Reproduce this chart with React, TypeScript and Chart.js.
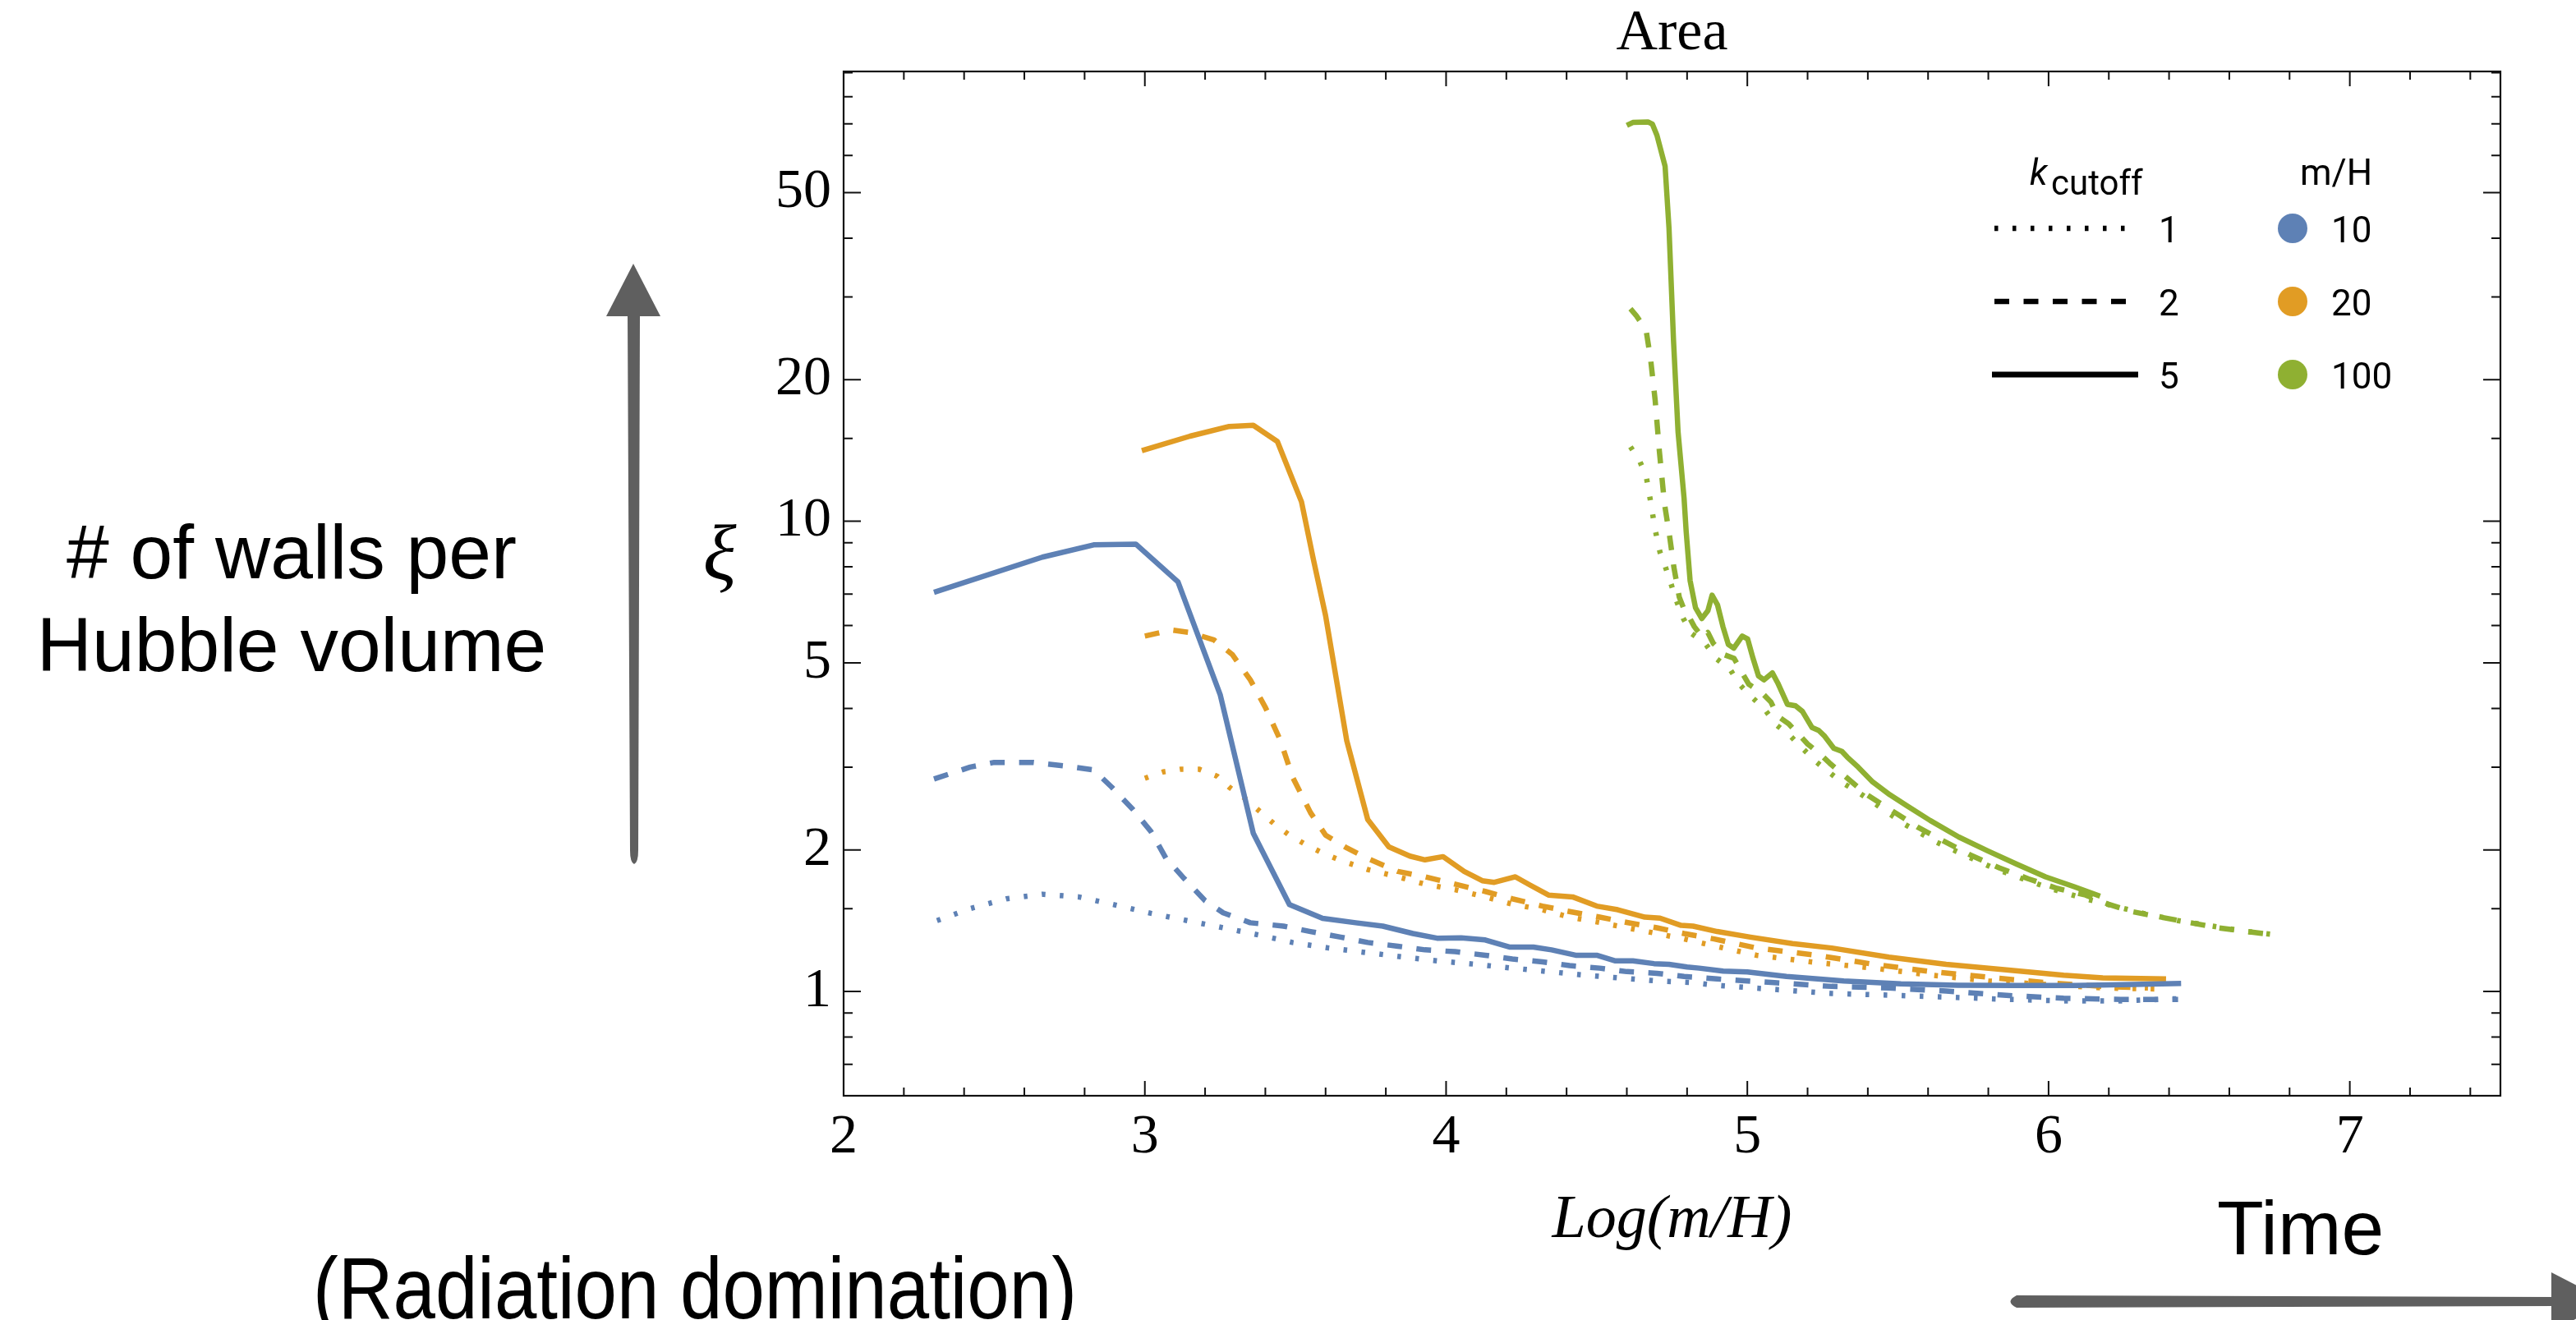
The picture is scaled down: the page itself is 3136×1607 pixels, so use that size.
import React, { useEffect, useRef } from "react";
import { Chart, registerables } from "chart.js";

Chart.register(...registerables);

// ---------- axis ticks ----------
const xTickValues = [2, 2.2, 2.4, 2.6, 2.8, 3, 3.2, 3.4, 3.6, 3.8, 4, 4.2, 4.4, 4.6, 4.8, 5, 5.2, 5.4, 5.6, 5.8, 6, 6.2, 6.4, 6.6, 6.8, 7, 7.2, 7.4];
const xTickLabels = [2, 3, 4, 5, 6, 7];
const yTickValues = [0.7, 0.8, 0.9, 1, 1.5, 2, 3, 4, 5, 6, 7, 8, 9, 10, 15, 20, 30, 40, 50, 60, 70, 80, 90];
const yTickLabels = [1, 2, 5, 10, 20, 50];

// ---------- legend entries ----------
const kCutoffValues = ["1", "2", "5"];
const massRatioValues = ["10", "20", "100"];

// ---------- data: m/H = 10 ----------
const m10k5X = [2.30, 2.66, 2.83, 2.97, 3.11, 3.25, 3.36, 3.48, 3.59, 3.70, 3.79, 3.89, 3.97, 4.05, 4.13, 4.21, 4.29, 4.35, 4.43, 4.50, 4.56, 4.62, 4.69, 4.74, 4.80, 4.84, 4.92, 5.00, 5.13, 5.32, 5.51, 5.70, 5.89, 6.09, 6.28, 6.44];
const m10k5Y = [7.06, 8.39, 8.91, 8.94, 7.43, 4.28, 2.17, 1.53, 1.43, 1.40, 1.377, 1.328, 1.298, 1.30, 1.287, 1.243, 1.243, 1.226, 1.194, 1.194, 1.162, 1.162, 1.146, 1.142, 1.127, 1.121, 1.105, 1.10, 1.076, 1.053, 1.038, 1.031, 1.030, 1.03, 1.035, 1.04];
const m10k2X = [2.30, 2.42, 2.50, 2.63, 2.73, 2.83, 2.89, 2.96, 3.02, 3.07, 3.13, 3.20, 3.26, 3.35, 3.46, 3.55, 3.65, 3.74, 3.84, 3.93, 4.03, 4.13, 4.22, 4.32, 4.41, 4.51, 4.60, 4.70, 4.79, 4.90, 5.09, 5.28, 5.47, 5.66, 5.86, 6.05, 6.24, 6.43];
const m10k2Y = [2.83, 3.0, 3.07, 3.07, 3.02, 2.96, 2.72, 2.44, 2.19, 1.92, 1.74, 1.56, 1.47, 1.40, 1.377, 1.341, 1.305, 1.271, 1.248, 1.226, 1.215, 1.194, 1.172, 1.156, 1.135, 1.121, 1.102, 1.093, 1.076, 1.063, 1.044, 1.025, 1.017, 1.002, 0.981, 0.967, 0.962, 0.962];
const m10k1X = [2.31, 2.42, 2.54, 2.66, 2.78, 2.90, 3.02, 3.14, 3.26, 3.38, 3.49, 3.61, 3.73, 3.86, 3.97, 4.10, 4.22, 4.34, 4.46, 4.57, 4.70, 4.82, 4.90, 5.09, 5.28, 5.47, 5.66, 5.86, 6.05, 6.24, 6.43];
const m10k1Y = [1.415, 1.50, 1.574, 1.61, 1.589, 1.528, 1.466, 1.415, 1.366, 1.318, 1.271, 1.237, 1.211, 1.183, 1.162, 1.142, 1.121, 1.102, 1.083, 1.069, 1.053, 1.044, 1.03, 1.01, 0.99, 0.982, 0.973, 0.962, 0.955, 0.955, 0.965];

// ---------- data: m/H = 20 ----------
const m20k5X = [2.99, 3.15, 3.28, 3.36, 3.44, 3.52, 3.56, 3.60, 3.67, 3.74, 3.81, 3.88, 3.93, 3.99, 4.06, 4.12, 4.16, 4.23, 4.28, 4.34, 4.42, 4.50, 4.57, 4.66, 4.71, 4.78, 4.82, 4.90, 5.01, 5.15, 5.28, 5.47, 5.66, 5.86, 6.05, 6.18, 6.39];
const m20k5Y = [14.13, 15.17, 15.91, 16.0, 14.78, 11.0, 8.27, 6.3, 3.42, 2.32, 2.03, 1.94, 1.905, 1.935, 1.80, 1.72, 1.706, 1.753, 1.682, 1.603, 1.589, 1.519, 1.492, 1.439, 1.432, 1.382, 1.377, 1.341, 1.305, 1.264, 1.237, 1.183, 1.142, 1.111, 1.083, 1.069, 1.063];
const m20k2X = [3.00, 3.09, 3.15, 3.23, 3.29, 3.35, 3.40, 3.45, 3.49, 3.55, 3.60, 3.67, 3.74, 3.84, 3.93, 4.03, 4.13, 4.22, 4.32, 4.41, 4.51, 4.60, 4.70, 4.79, 4.89, 5.03, 5.23, 5.42, 5.61, 5.80, 5.99, 6.18, 6.33];
const m20k2Y = [5.70, 5.87, 5.80, 5.59, 5.21, 4.60, 4.02, 3.42, 2.86, 2.40, 2.15, 2.02, 1.917, 1.80, 1.753, 1.691, 1.632, 1.574, 1.519, 1.479, 1.439, 1.402, 1.366, 1.328, 1.293, 1.237, 1.194, 1.142, 1.102, 1.072, 1.044, 1.025, 1.017];
const m20k1X = [3.00, 3.06, 3.12, 3.18, 3.24, 3.28, 3.33, 3.38, 3.43, 3.48, 3.53, 3.59, 3.65, 3.74, 3.84, 3.93, 4.03, 4.13, 4.22, 4.32, 4.41, 4.51, 4.60, 4.70, 4.79, 4.89, 5.03, 5.23, 5.42, 5.61, 5.80, 5.99, 6.18, 6.37];
const m20k1Y = [2.84, 2.93, 2.97, 2.97, 2.87, 2.72, 2.58, 2.42, 2.27, 2.15, 2.06, 1.97, 1.90, 1.817, 1.753, 1.691, 1.646, 1.589, 1.533, 1.492, 1.439, 1.402, 1.366, 1.328, 1.293, 1.25, 1.194, 1.152, 1.121, 1.083, 1.053, 1.035, 1.017, 1.012];

// ---------- data: m/H = 100 ----------
const m100k5X = [4.60, 4.62, 4.67, 4.685, 4.70, 4.727, 4.74, 4.755, 4.77, 4.79, 4.797, 4.81, 4.828, 4.849, 4.869, 4.883, 4.901, 4.919, 4.937, 4.955, 4.983, 5.001, 5.019, 5.037, 5.055, 5.083, 5.101, 5.133, 5.16, 5.183, 5.215, 5.237, 5.255, 5.287, 5.314, 5.332, 5.368, 5.416, 5.473, 5.531, 5.607, 5.702, 5.798, 5.894, 5.99, 6.085, 6.171];
const m100k5Y = [69.5, 70.5, 70.7, 69.9, 66.2, 56.9, 42.0, 24.2, 15.5, 11.2, 9.51, 7.48, 6.55, 6.21, 6.45, 6.96, 6.64, 5.97, 5.47, 5.37, 5.70, 5.62, 5.11, 4.69, 4.60, 4.76, 4.53, 4.08, 4.05, 3.94, 3.64, 3.59, 3.50, 3.29, 3.24, 3.15, 3.0, 2.79, 2.62, 2.48, 2.31, 2.13, 1.99, 1.866, 1.753, 1.67, 1.595];
const m100k2X = [4.612, 4.631, 4.664, 4.679, 4.694, 4.708, 4.725, 4.742, 4.756, 4.774, 4.794, 4.806, 4.824, 4.852, 4.869, 4.887, 4.924, 4.956, 4.983, 5.005, 5.046, 5.078, 5.101, 5.137, 5.173, 5.20, 5.241, 5.273, 5.31, 5.397, 5.473, 5.569, 5.645, 5.741, 5.836, 5.932, 6.028, 6.123, 6.199, 6.276, 6.371, 6.467, 6.563, 6.658, 6.754];
const m100k2Y = [28.3, 27.4, 25.5, 22.1, 18.1, 14.1, 10.9, 9.3, 8.0, 6.9, 6.4, 6.27, 5.97, 5.65, 5.8, 5.5, 5.2, 5.11, 4.76, 4.5, 4.33, 4.13, 3.85, 3.71, 3.51, 3.36, 3.20, 3.06, 2.92, 2.62, 2.44, 2.23, 2.10, 1.95, 1.832, 1.737, 1.657, 1.603, 1.533, 1.479, 1.439, 1.402, 1.366, 1.341, 1.318];
const m100k1X = [4.612, 4.641, 4.664, 4.679, 4.694, 4.71, 4.728, 4.747, 4.765, 4.787, 4.815, 4.86, 4.896, 4.942, 4.974, 5.014, 5.055, 5.096, 5.142, 5.183, 5.228, 5.273, 5.319, 5.358, 5.435, 5.521, 5.626, 5.721, 5.817, 5.913, 6.018, 6.123, 6.218, 6.314, 6.429, 6.544, 6.658, 6.763];
const m100k1Y = [14.4, 13.5, 12.5, 11.0, 9.6, 8.6, 8.0, 7.35, 6.77, 6.22, 5.77, 5.5, 5.11, 4.85, 4.5, 4.23, 4.0, 3.69, 3.5, 3.29, 3.08, 2.92, 2.77, 2.68, 2.48, 2.27, 2.08, 1.95, 1.83, 1.737, 1.646, 1.574, 1.519, 1.466, 1.415, 1.377, 1.341, 1.318];

// ---------- styles ----------
const BLUE = "#5E81B5";
const ORANGE = "#E19C24";
const GREEN = "#8FB032";
const ARROW_GRAY = "#5f5f5f";
const DASH_DOTTED = [4.5, 17.5];
const DASH_DASHED = [18, 17.5];
const DASH_SOLID: number[] = [];
const LINE_W = 6.5;
const SERIF = "'Liberation Serif', 'Times New Roman', serif";
const SANS = "'Liberation Sans', Arial, Helvetica, sans-serif";
const LEGEND_FONT = "Roboto, 'Noto Sans', sans-serif";

const pts = (xs: number[], ys: number[]) => xs.map((x, i) => ({ x, y: ys[i] }));

const series = (label: string, xs: number[], ys: number[], color: string, dash: number[]) => ({
  label,
  data: pts(xs, ys),
  borderColor: color,
  backgroundColor: color,
  borderWidth: LINE_W,
  borderDash: dash,
  borderCapStyle: "butt" as const,
  borderJoinStyle: "round" as const,
  pointRadius: 0,
  pointHoverRadius: 0,
  tension: 0,
  fill: false,
});

const decorPlugin = {
  id: "decor",
  afterDatasetsDraw(chart: any) {
    const { ctx, chartArea: a, scales } = chart;
    const xs = scales.x;
    const ys = scales.y;
    ctx.save();
    // frame
    ctx.strokeStyle = "#111";
    ctx.lineWidth = 2.2;
    ctx.strokeRect(a.left, a.top, a.right - a.left, a.bottom - a.top);
    // inward ticks on all four sides
    ctx.lineWidth = 2;
    ctx.beginPath();
    for (const t of xs.ticks) {
      const p = xs.getPixelForValue(t.value);
      const L = xTickLabels.includes(t.value) ? 18 : 10;
      ctx.moveTo(p, a.bottom);
      ctx.lineTo(p, a.bottom - L);
      ctx.moveTo(p, a.top);
      ctx.lineTo(p, a.top + L);
    }
    for (const t of ys.ticks) {
      const p = ys.getPixelForValue(t.value);
      const L = yTickLabels.includes(t.value) ? 21 : 11;
      ctx.moveTo(a.left, p);
      ctx.lineTo(a.left + L, p);
      ctx.moveTo(a.right, p);
      ctx.lineTo(a.right - L, p);
    }
    ctx.stroke();
    // upright y-axis label
    ctx.fillStyle = "#000";
    ctx.font = `italic 95px ${SERIF}`;
    ctx.textAlign = "center";
    ctx.textBaseline = "alphabetic";
    ctx.fillText("ξ", 876, 705);
    ctx.restore();
  },
  afterDraw(chart: any) {
    const { ctx } = chart;
    ctx.save();
    // ----- legend -----
    ctx.fillStyle = "#000";
    ctx.textBaseline = "alphabetic";
    ctx.textAlign = "left";
    ctx.font = `italic 44px ${LEGEND_FONT}`;
    ctx.fillText("k", 2471, 225);
    ctx.font = `42px ${LEGEND_FONT}`;
    ctx.fillText("cutoff", 2497, 237);
    ctx.font = `44px ${LEGEND_FONT}`;
    ctx.textAlign = "center";
    ctx.fillText("m/H", 2844, 225);
    ctx.textAlign = "left";
    const rowY = [278, 367, 456];
    const dashes = [DASH_DOTTED, DASH_DASHED, DASH_SOLID];
    const colors = [BLUE, ORANGE, GREEN];
    for (let i = 0; i < 3; i++) {
      const y = rowY[i];
      ctx.strokeStyle = "#000";
      ctx.lineWidth = i === 2 ? 7 : 6.5;
      ctx.lineCap = "butt";
      ctx.setLineDash(dashes[i]);
      ctx.beginPath();
      ctx.moveTo(i === 2 ? 2425 : 2428, y);
      ctx.lineTo(i === 2 ? 2603 : 2590, y);
      ctx.stroke();
      ctx.setLineDash([]);
      ctx.fillStyle = "#000";
      ctx.font = `44px ${LEGEND_FONT}`;
      ctx.fillText(kCutoffValues[i], 2628, y + 17);
      ctx.fillStyle = colors[i];
      ctx.beginPath();
      ctx.ellipse(2791, y, 18, 18, 0, 0, Math.PI * 2);
      ctx.fill();
      ctx.fillStyle = "#000";
      ctx.fillText(massRatioValues[i], 2838, y + 17);
    }
    // ----- annotations -----
    ctx.fillStyle = "#000";
    ctx.font = `93px ${SANS}`;
    ctx.textAlign = "center";
    ctx.fillText("# of walls per", 355, 704);
    ctx.fillText("Hubble volume", 355, 817);
    ctx.textAlign = "left";
    ctx.fillText("Time", 2699, 1527);
    ctx.save();
    ctx.translate(381, 1605);
    ctx.scale(0.872, 1);
    ctx.font = `106px ${SANS}`;
    ctx.fillText("(Radiation domination)", 0, 0);
    ctx.restore();
    // vertical arrow
    ctx.fillStyle = ARROW_GRAY;
    ctx.beginPath();
    ctx.moveTo(772, 1052);
    ctx.quadraticCurveTo(767, 1050, 767, 1035);
    ctx.lineTo(764, 384);
    ctx.lineTo(779, 384);
    ctx.lineTo(777, 1035);
    ctx.quadraticCurveTo(777, 1050, 772, 1052);
    ctx.closePath();
    ctx.fill();
    ctx.beginPath();
    ctx.moveTo(738, 385);
    ctx.lineTo(771, 321);
    ctx.lineTo(804, 385);
    ctx.closePath();
    ctx.fill();
    // horizontal arrow
    ctx.beginPath();
    ctx.moveTo(2455, 1577);
    ctx.lineTo(3110, 1579);
    ctx.lineTo(3110, 1590);
    ctx.lineTo(2455, 1592);
    ctx.quadraticCurveTo(2440, 1584.5, 2455, 1577);
    ctx.closePath();
    ctx.fill();
    ctx.beginPath();
    ctx.moveTo(3106, 1549);
    ctx.lineTo(3176, 1585);
    ctx.lineTo(3106, 1621);
    ctx.closePath();
    ctx.fill();
    ctx.restore();
  },
};

export default function App() {
  const ref = useRef<HTMLCanvasElement | null>(null);
  useEffect(() => {
    const canvas = ref.current;
    if (!canvas) return;
    const datasets = [
      series("m/H=10, k=5", m10k5X, m10k5Y, BLUE, DASH_SOLID),
      series("m/H=10, k=2", m10k2X, m10k2Y, BLUE, DASH_DASHED),
      series("m/H=10, k=1", m10k1X, m10k1Y, BLUE, DASH_DOTTED),
      series("m/H=20, k=5", m20k5X, m20k5Y, ORANGE, DASH_SOLID),
      series("m/H=20, k=2", m20k2X, m20k2Y, ORANGE, DASH_DASHED),
      series("m/H=20, k=1", m20k1X, m20k1Y, ORANGE, DASH_DOTTED),
      series("m/H=100, k=5", m100k5X, m100k5Y, GREEN, DASH_SOLID),
      series("m/H=100, k=2", m100k2X, m100k2Y, GREEN, DASH_DASHED),
      series("m/H=100, k=1", m100k1X, m100k1Y, GREEN, DASH_DOTTED),
    ];
    const chart = new Chart(canvas, {
      type: "line",
      data: { datasets } as any,
      options: {
        responsive: false,
        maintainAspectRatio: false,
        devicePixelRatio: 1,
        animation: false,
        events: [],
        layout: { padding: { left: 0, right: 92, top: 0, bottom: 0 } },
        plugins: {
          legend: { display: false },
          tooltip: { enabled: false },
          title: {
            display: true,
            text: "Area",
            fullSize: false,
            color: "#000",
            font: { family: SERIF, size: 70, lineHeight: 1, weight: "normal" },
            padding: { top: 7, bottom: 10 },
          },
        },
        scales: {
          x: {
            type: "linear",
            position: "bottom",
            min: 2,
            max: 7.5,
            afterBuildTicks: (scale: any) => {
              scale.ticks = xTickValues.map((v) => ({ value: v, major: xTickLabels.includes(v) }));
            },
            afterFit: (scale: any) => {
              scale.height = 273;
            },
            grid: { display: false, drawTicks: false },
            border: { display: false },
            ticks: {
              autoSkip: false,
              maxRotation: 0,
              minRotation: 0,
              padding: 17,
              color: "#000",
              font: { family: SERIF, size: 68, lineHeight: 1 },
              callback: (value: any) => (xTickLabels.includes(Number(value)) ? String(value) : ""),
            },
            title: {
              display: true,
              text: "Log(m/H)",
              color: "#000",
              font: { family: SERIF, size: 74, style: "italic", lineHeight: 1 },
              padding: { top: 0, bottom: 83 },
            },
          },
          y: {
            type: "logarithmic",
            position: "left",
            min: 0.6164,
            max: 90.5,
            afterBuildTicks: (scale: any) => {
              scale.ticks = yTickValues.map((v) => ({ value: v, major: yTickLabels.includes(v) }));
            },
            afterFit: (scale: any) => {
              scale.width = 1027;
            },
            grid: { display: false, drawTicks: false },
            border: { display: false },
            ticks: {
              autoSkip: false,
              padding: 15,
              color: "#000",
              font: { family: SERIF, size: 68, lineHeight: 1 },
              callback: (value: any) => (yTickLabels.includes(Number(value)) ? String(value) : ""),
            },
            title: { display: false },
          },
        },
      } as any,
      plugins: [decorPlugin],
    });
    return () => chart.destroy();
  }, []);
  return (
    <canvas
      ref={ref}
      width={3136}
      height={1607}
      style={{ position: "fixed", left: 0, top: 0, width: "3136px", height: "1607px", display: "block" }}
    />
  );
}
